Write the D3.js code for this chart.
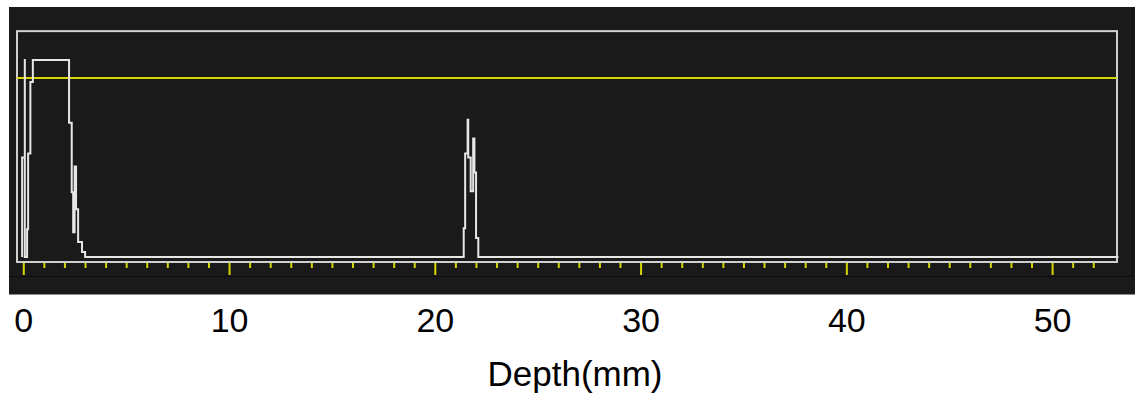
<!DOCTYPE html>
<html>
<head>
<meta charset="utf-8">
<script src="https://cdn.jsdelivr.net/npm/d3@7"></script>
<style>
  html, body { margin: 0; padding: 0; background: #ffffff; }
  svg { display: block; }
</style>
</head>
<body>
<div id="chart"></div>
<script>
// A-scan trace: depth (mm) and amplitude (% of screen height)
const traceDepth = [-0.08, -0.08, 0.05, 0.05, 0.05, 0.16, 0.16, 0.21, 0.21, 0.32, 0.32, 0.44, 0.44,
  2.20, 2.20, 2.33, 2.33, 2.40, 2.40, 2.47, 2.47, 2.54, 2.54, 2.64, 2.64, 2.83, 2.83, 2.98, 2.98,
  21.38, 21.38, 21.45, 21.45, 21.57, 21.57, 21.60, 21.60, 21.72, 21.72, 21.84, 21.84, 21.90, 21.90,
  21.98, 21.98, 22.09, 22.09, 53.20];
const traceAmp = [0, 50, 50, 99.5, 0, 0, 14, 14, 52, 52, 88, 88, 99,
  99, 67.5, 67.5, 32.5, 32.5, 12.5, 12.5, 45.5, 45.5, 24, 24, 7.5, 7.5, 2.5, 2.5, 0,
  0, 14.5, 14.5, 52, 52, 69, 69, 50, 50, 33, 33, 59.5, 59.5, 42.5,
  42.5, 9.5, 9.5, 0, 0];

const gateLevel = 90;            // yellow gate, % amplitude
const minorTicks = d3.range(0, 53, 1);
const majorTicks = [0, 10, 20, 30, 40, 50];
const xLabel = "Depth(mm)";

const W = 1140, H = 395;
const svg = d3.select("#chart").append("svg")
  .attr("width", W).attr("height", H);

const x = d3.scaleLinear().domain([-0.33, 53.13]).range([17, 1117]);
const y = d3.scaleLinear().domain([0, 100]).range([257, 58]);

// dark instrument panel
svg.append("rect")
  .attr("x", 9).attr("y", 7).attr("width", 1126).attr("height", 288)
  .attr("fill", "#1a1a1a");
svg.append("line")
  .attr("x1", 9).attr("x2", 1135).attr("y1", 294.5).attr("y2", 294.5)
  .attr("stroke", "#8a8a8a").attr("stroke-width", 1);
svg.append("line")
  .attr("x1", 9).attr("x2", 1132).attr("y1", 276.5).attr("y2", 276.5)
  .attr("stroke", "#0c0c0c").attr("stroke-width", 1);
svg.append("line")
  .attr("x1", 1132.5).attr("x2", 1132.5).attr("y1", 7).attr("y2", 277)
  .attr("stroke", "#0c0c0c").attr("stroke-width", 1);

// plot frame
svg.append("rect")
  .attr("x", x.range()[0]).attr("y", y(113.5))
  .attr("width", x.range()[1] - x.range()[0])
  .attr("height", 262 - y(113.5))
  .attr("fill", "none")
  .attr("stroke", "#cfcfcf").attr("stroke-width", 2);

// gate line
svg.append("line")
  .attr("x1", x.range()[0]).attr("x2", x.range()[1])
  .attr("y1", y(gateLevel)).attr("y2", y(gateLevel))
  .attr("stroke", "#d6d600").attr("stroke-width", 2);

// trace
const pts = traceDepth.map((d, i) => [d, traceAmp[i]]);
svg.append("path")
  .datum(pts)
  .attr("fill", "none")
  .attr("stroke", "#e6e6e6")
  .attr("stroke-width", 2)
  .attr("stroke-linejoin", "miter")
  .attr("d", d3.line().x(d => x(d[0])).y(d => y(d[1])));

// yellow ticks
svg.append("g").selectAll("line")
  .data(minorTicks)
  .join("line")
  .attr("x1", d => x(d)).attr("x2", d => x(d))
  .attr("y1", 263)
  .attr("y2", d => d % 10 === 0 ? 275 : 268)
  .attr("stroke", "#d6d600").attr("stroke-width", 2);

// tick labels below the panel
svg.append("g").selectAll("text")
  .data(majorTicks)
  .join("text")
  .attr("x", d => x(d))
  .attr("y", 332)
  .attr("text-anchor", "middle")
  .attr("font-family", "Liberation Sans, Arial, sans-serif")
  .attr("font-size", 34)
  .attr("fill", "#000")
  .text(d => d);

svg.append("text")
  .attr("x", 575).attr("y", 386)
  .attr("text-anchor", "middle")
  .attr("font-family", "Liberation Sans, Arial, sans-serif")
  .attr("font-size", 35)
  .attr("fill", "#000")
  .text(xLabel);
</script>
</body>
</html>
